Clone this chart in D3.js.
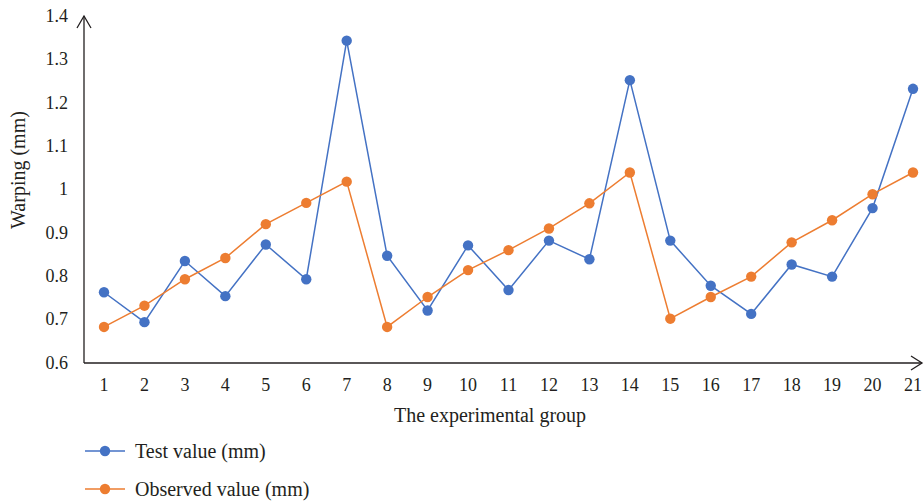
<!DOCTYPE html>
<html>
<head>
<meta charset="utf-8">
<script src="https://cdn.jsdelivr.net/npm/d3@7"></script>
<style>
  body { margin: 0; background: #fff; }
  text { font-family: "Liberation Serif", "DejaVu Serif", serif; fill: #231f20; }
</style>
</head>
<body>
<div id="chart"></div>
<script>
const groups = d3.range(1, 22);
const testValues = [0.762, 0.693, 0.834, 0.753, 0.872, 0.792, 1.342, 0.846, 0.720, 0.870,
                    0.767, 0.881, 0.838, 1.251, 0.881, 0.777, 0.712, 0.826, 0.798, 0.956, 1.231];
const observedValues = [0.682, 0.731, 0.792, 0.841, 0.919, 0.968, 1.017, 0.682, 0.751, 0.813,
                        0.859, 0.909, 0.967, 1.038, 0.701, 0.751, 0.798, 0.877, 0.928, 0.988, 1.038];
const yTicks = [0.6, 0.7, 0.8, 0.9, 1, 1.1, 1.2, 1.3, 1.4];
const seriesNames = ["Test value (mm)", "Observed value (mm)"];
const colors = ["#4472c4", "#ed7d31"];

const W = 924, H = 504;
const svg = d3.select("#chart").append("svg")
    .attr("width", W)
    .attr("height", H);

const x = d3.scalePoint()
    .domain(groups)
    .range([104, 913]);

const y = d3.scaleLinear()
    .domain([0.6, 1.4])
    .range([362.5, 15.5]);

const axisX0 = 84, axisY0 = 363;

// y tick labels
svg.append("g")
  .selectAll("text")
  .data(yTicks)
  .join("text")
    .attr("x", 68)
    .attr("y", d => y(d))
    .attr("dy", "0.35em")
    .attr("text-anchor", "end")
    .style("font-size", "18px")
    .text(d => d);

// x tick labels
svg.append("g")
  .selectAll("text")
  .data(groups)
  .join("text")
    .attr("x", d => x(d))
    .attr("y", 391)
    .attr("text-anchor", "middle")
    .style("font-size", "18px")
    .text(d => d);

// axes with arrows
const axisG = svg.append("g")
    .attr("stroke", "#231f20")
    .attr("stroke-width", 1.3)
    .attr("fill", "none");
axisG.append("path").attr("d", `M${axisX0},${axisY0}V16`);
axisG.append("path").attr("d", `M${axisX0 - 7},28L${axisX0},16L${axisX0 + 7},28`);
axisG.append("path").attr("d", `M${axisX0},${axisY0}H922`);
axisG.append("path").attr("d", `M911,${axisY0 - 7}L922,${axisY0}L911,${axisY0 + 7}`);

// axis titles
svg.append("text")
    .attr("transform", "translate(25,170) rotate(-90)")
    .attr("text-anchor", "middle")
    .style("font-size", "20px")
    .text("Warping (mm)");

svg.append("text")
    .attr("x", 490)
    .attr("y", 422)
    .attr("text-anchor", "middle")
    .style("font-size", "20px")
    .text("The experimental group");

// series
const line = d3.line()
    .x((d, i) => x(groups[i]))
    .y(d => y(d));

[testValues, observedValues].forEach((vals, k) => {
    const g = svg.append("g");
    g.append("path")
        .datum(vals)
        .attr("d", line)
        .attr("fill", "none")
        .attr("stroke", colors[k])
        .attr("stroke-width", 1.5);
    g.selectAll("circle")
        .data(vals)
        .join("circle")
        .attr("cx", (d, i) => x(groups[i]))
        .attr("cy", d => y(d))
        .attr("r", 5.2)
        .attr("fill", colors[k]);
});

// legend
const legend = svg.append("g")
  .selectAll("g")
  .data(seriesNames)
  .join("g")
    .attr("transform", (d, i) => `translate(85,${451 + i * 38})`);
legend.append("line")
    .attr("x1", 0).attr("x2", 40)
    .attr("stroke", (d, i) => colors[i])
    .attr("stroke-width", 1.5);
legend.append("circle")
    .attr("cx", 20)
    .attr("r", 5.2)
    .attr("fill", (d, i) => colors[i]);
legend.append("text")
    .attr("x", 50)
    .attr("dy", "0.35em")
    .style("font-size", "20px")
    .text(d => d);
</script>
</body>
</html>
